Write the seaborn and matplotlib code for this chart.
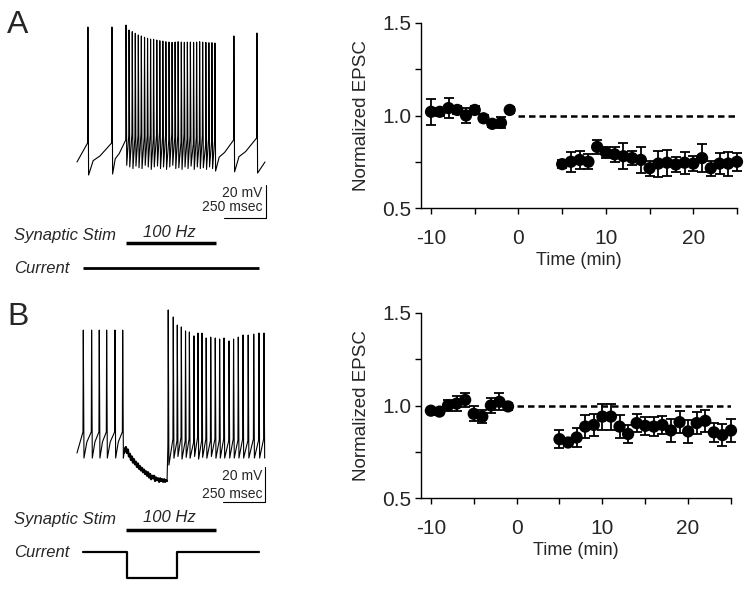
import numpy as np
import pandas as pd
import matplotlib
matplotlib.use("Agg")
import matplotlib.pyplot as plt
import seaborn as sns

# ------------------------------------------------------------------
# Summary data (normalized EPSC vs time)
# ------------------------------------------------------------------
time_pre = [-10, -9, -8, -7, -6, -5, -4, -3, -2, -1]
time_post = [5, 6, 7, 8, 9, 10, 11, 12, 13, 14, 15, 16, 17, 18, 19, 20, 21, 22, 23, 24, 25]

a_pre = [1.02, 1.02, 1.04, 1.03, 1.00, 1.03, 0.985, 0.955, 0.96, 1.03]
a_pre_err = [0.07, 0.02, 0.055, 0.02, 0.04, 0.02, 0.02, 0.015, 0.03, 0.015]
a_post = [0.737, 0.75, 0.76, 0.75, 0.83, 0.80, 0.79, 0.78, 0.77, 0.76, 0.715,
          0.74, 0.745, 0.735, 0.745, 0.74, 0.77, 0.715, 0.74, 0.74, 0.75]
a_post_err = [0.02, 0.055, 0.05, 0.04, 0.04, 0.03, 0.04, 0.07, 0.04, 0.07, 0.04,
              0.07, 0.07, 0.04, 0.06, 0.04, 0.075, 0.04, 0.055, 0.065, 0.05]

b_pre = [0.972, 0.967, 1.00, 1.01, 1.03, 0.955, 0.94, 1.00, 1.02, 0.995]
b_pre_err = [0.015, 0.02, 0.03, 0.04, 0.04, 0.04, 0.035, 0.04, 0.045, 0.02]
b_post = [0.818, 0.80, 0.827, 0.886, 0.895, 0.94, 0.94, 0.886, 0.846, 0.905, 0.89,
          0.886, 0.895, 0.865, 0.91, 0.86, 0.905, 0.917, 0.855, 0.84, 0.865]
b_post_err = [0.05, 0.02, 0.05, 0.06, 0.06, 0.07, 0.07, 0.06, 0.05, 0.05, 0.05,
              0.05, 0.05, 0.06, 0.06, 0.06, 0.06, 0.06, 0.05, 0.06, 0.06]

x_ticks = [-10, 0, 10, 20]
x_minor = [-5, 5, 15, 25]
y_ticks = [0.5, 1.0, 1.5]
y_minor = [0.75, 1.25]
baseline = 1.0

# ------------------------------------------------------------------
# Voltage traces (ms, mV)
# ------------------------------------------------------------------
# Panel A
a_start = (0, -60)
a_end = (1119, -60)
a_spk_t = [65, 208,
           292, 310, 329, 347, 365, 383, 402, 420, 438, 456, 475, 493, 511, 529, 548,
           566, 584, 602, 621, 639, 657, 675, 694, 712, 730, 748, 767, 785, 803, 821,
           934, 1071]
a_spk_peak = [21.8, 21.8,
              23.0, 20.0, 19.0, 18.0, 17.0, 16.4, 15.6, 15.0, 14.5, 14.4, 13.9, 13.5, 13.3,
              12.9, 12.7, 12.5, 12.7, 12.9, 12.7, 12.5, 12.7, 12.7, 12.5, 12.7, 12.9, 12.7,
              12.5, 12.3, 12.3, 12.1,
              16.4, 18.2]
a_spk_thr = [-48.5, -48.5,
             -46.7, -44, -43, -45, -44, -42.5, -45, -44, -43, -46, -44, -42, -45, -44,
             -47, -43, -45, -44, -48, -43, -46, -44, -49, -45, -47, -44, -50, -46, -48, -47,
             -46.7, -45.5]
a_spk_trough = [-67.9, -67.3,
                -62, -63, -64, -62.5, -63.5, -64, -62, -63, -64.5, -63, -62.5, -64, -63, -64.5,
                -63, -62, -64, -63.5, -64.5, -63, -64, -62.5, -64.5, -63, -64, -63.5, -64.5,
                -63, -64, -65.5,
                -66, -66.7]

# Panel B
b_start = (0, -60)
b_pre_t = [37.5, 87, 132.5, 176.5, 226, 272]
b_pre_peak = [10.2, 10.2, 10.2, 10.2, 10.2, 10.2]
b_pre_thr = [-48, -48, -48, -48, -48, -48]
b_pre_trough = [-62.9, -62.9, -62.9, -62.9, -62.9, -62.9]

b_hyper_t = [280, 286, 291, 297, 303, 309, 315, 321, 327, 333, 339, 345, 351, 357, 363,
             369, 375, 381, 387, 393, 399, 405, 411, 417, 423, 429, 435, 441, 447, 453,
             459, 465, 471, 477, 483, 489, 495, 501, 507, 513, 519, 525, 531, 536]
b_hyper_v = [-60, -57.5, -56.6, -60, -58, -62, -60.5, -64, -62, -65.5, -63.5, -66.5,
             -65, -68, -66, -69, -67.5, -70, -68.5, -71, -69.5, -72, -70.5, -73, -71,
             -74, -72, -75, -73, -74.5, -73, -76, -74, -75.5, -74.5, -76.5, -74.5, -76,
             -75, -76.5, -75, -76.5, -75.5, -76]

b_post_t = [543, 573, 597, 621, 646, 669, 696, 720, 744, 769, 796, 823, 849, 875, 905,
            932, 960, 988, 1019, 1052, 1083, 1113]
b_post_peak = [21.7, 17.7, 13.1, 12.0, 9.7, 9.1, 6.9, 8.5, 8.5, 5.7, 6.2, 5.7, 5.1, 5.7,
               4.0, 5.1, 6.2, 7.4, 7.4, 7.9, 8.5, 8.5]
b_post_thr = [-56, -52, -53, -51, -53, -52, -54, -51, -53, -52, -53, -52, -52.6, -52,
              -53, -52, -52.6, -52, -53, -52, -52.6, -52]
b_post_trough = [-66.9, -63, -62, -63.5, -62.5, -63, -62, -63.5, -62.5, -63, -62, -63,
                 -62.9, -62.9, -62.9, -62.9, -62.9, -62.9, -62.9, -62.9, -62.9, -62.9]

# Stimulus and current protocols
stim_on, stim_off = 292, 827
a_cur_t = [36, 1083]
a_cur_level = [0, 0]
b_cur_t = [36, 298, 298, 595, 595, 1083]
b_cur_level = [0, 0, -1, -1, 0, 0]
scale_t = 250   # ms
scale_v = 20    # mV


def spike_train(ts, pk, th, tr):
    t, v = [], []
    n = len(ts)
    for i in range(n):
        t += [ts[i] - 2, ts[i], ts[i] + 4]
        v += [th[i], pk[i], tr[i]]
        if i < n - 1:
            gap = (ts[i + 1] - 2) - (ts[i] + 4)
            if gap > 60:
                t += [ts[i] + 4 + 0.2 * gap, ts[i] + 4 + 0.5 * gap]
                v += [tr[i] + 0.45 * (th[i + 1] - tr[i]), tr[i] + 0.6 * (th[i + 1] - tr[i])]
            elif gap > 30:
                t.append(ts[i] + 4 + 0.4 * gap)
                v.append(tr[i] + 0.62 * (th[i + 1] - tr[i]))
    return t, v


# ------------------------------------------------------------------
# Figure
# ------------------------------------------------------------------
sns.set_style("ticks")
plt.rcParams["font.family"] = ["Liberation Sans", "DejaVu Sans"]
W, H = 752, 589
fig = plt.figure(figsize=(W / 100, H / 100), dpi=100)


def px_axes(x0, y0, x1, y1):
    return fig.add_axes([x0 / W, 1 - y1 / H, (x1 - x0) / W, (y1 - y0) / H])


def ftext(x, y, s, **kw):
    fig.text(x / W, 1 - y / H, s, **kw)


trace_kw = dict(color="black", lw=0.8)

# ----- Panel A trace -----
axA = px_axes(0, 0, 300, 290)
axA.set_xlim(-458.3, 1327.4)
axA.set_ylim(-137.6, 38.2)
axA.axis("off")
tA, vA = spike_train(a_spk_t, a_spk_peak, a_spk_thr, a_spk_trough)
tA = [a_start[0]] + tA + [a_end[0]]
vA = [a_start[1]] + vA + [a_end[1]]
axA.plot(tA, vA, **trace_kw)
# scale bar A
sbx, sby = 1125, -73.9
axA.plot([sbx, sbx, sbx - scale_t], [sby, sby - scale_v, sby - scale_v], color="black", lw=0.8)
# stim bar & current A
axA.plot([stim_on, stim_off], [-109.1, -109.1], color="black", lw=2.5, solid_capstyle="butt")
axA.plot(a_cur_t, [-124.2 + 14.8 * l for l in a_cur_level], color="black", lw=2.0,
         solid_capstyle="butt")

# ----- Panel B trace -----
axB = px_axes(0, 290, 300, 589)
axB.set_xlim(-458.3, 1327.4)
axB.set_ylim(-137.7, 33.1)
axB.axis("off")
t1, v1 = spike_train(b_pre_t, b_pre_peak, b_pre_thr, b_pre_trough)
t3, v3 = spike_train(b_post_t, b_post_peak, b_post_thr, b_post_trough)
tB = [b_start[0]] + t1 + b_hyper_t + t3
vB = [b_start[1]] + v1 + b_hyper_v + v3
axB.plot(tB, vB, **trace_kw)
axB.plot(b_hyper_t, b_hyper_v, color="black", lw=1.6)
sbx, sby = 1119, -68
axB.plot([sbx, sbx, sbx - scale_t], [sby, sby - scale_v, sby - scale_v], color="black", lw=0.8)
axB.plot([stim_on, stim_off], [-104, -104], color="black", lw=2.5, solid_capstyle="butt")
axB.plot(b_cur_t, [-116.5 + 14.8 * l for l in b_cur_level], color="black", lw=1.6)

# ----- texts on left -----
for (letter, ybase) in [("A", 33), ("B", 325)]:
    ftext(7, ybase, letter, fontsize=23, va="baseline", ha="left")
ital = dict(fontsize=12, style="italic", va="baseline")
ftext(14, 240, "Synaptic Stim", ha="left", **ital)
ftext(169, 237, "100 Hz", ha="center", **ital)
ftext(14, 273, "Current", ha="left", **ital)
ftext(14, 524, "Synaptic Stim", ha="left", **ital)
ftext(169, 522, "100 Hz", ha="center", **ital)
ftext(14, 557, "Current", ha="left", **ital)
small = dict(fontsize=10, va="baseline", ha="right")
ftext(262, 197, "20 mV", **small)
ftext(262, 211, "250 msec", **small)
ftext(262, 480, "20 mV", **small)
ftext(262, 498, "250 msec", **small)


# ----- Right summary plots -----
def summary(ax, pre, pre_err, post, post_err, xmax):
    df = pd.DataFrame({"time": time_pre + time_post, "epsc": pre + post,
                       "err": pre_err + post_err})
    ax.plot([0, xmax], [baseline, baseline], color="black", lw=1.8,
            dashes=(2.6, 1.6), zorder=1)
    eb = ax.errorbar(df["time"], df["epsc"], yerr=df["err"], fmt="none", ecolor="black",
                     elinewidth=1.3, capsize=3.5, capthick=1.3, zorder=2)
    for art in eb.get_children():
        art.set_clip_on(False)
    sns.scatterplot(data=df, x="time", y="epsc", ax=ax, color="black", s=78,
                    edgecolor="none", zorder=3, legend=False, clip_on=False)
    ax.set_xlim(-11.15, xmax)
    ax.set_ylim(0.5, 1.5)
    ax.set_xticks(x_ticks)
    ax.set_xticks(x_minor, minor=True)
    ax.set_yticks(y_ticks)
    ax.set_yticks(y_minor, minor=True)
    ax.set_yticklabels(["0.5", "1.0", "1.5"])
    ax.set_xticklabels(["-10", "0", "10", "20"])
    ax.tick_params(axis="both", which="both", direction="out", length=4, width=1,
                   color="black", labelsize=15)
    ax.tick_params(axis="y", pad=3)
    ax.tick_params(axis="x", pad=11)
    for s in ["left", "bottom"]:
        ax.spines[s].set_linewidth(1.0)
        ax.spines[s].set_color("black")
    sns.despine(ax=ax)
    ax.set_xlabel("Time (min)", fontsize=13, labelpad=3)
    ax.set_ylabel("Normalized EPSC", fontsize=13.5, labelpad=9)


axR1 = px_axes(421, 23, 737, 208)
summary(axR1, a_pre, a_pre_err, a_post, a_post_err, 25)
axR2 = px_axes(421, 313, 731, 498)
summary(axR2, b_pre, b_pre_err, b_post, b_post_err, 25)

fig.savefig("out.png", dpi=100, facecolor="white")
